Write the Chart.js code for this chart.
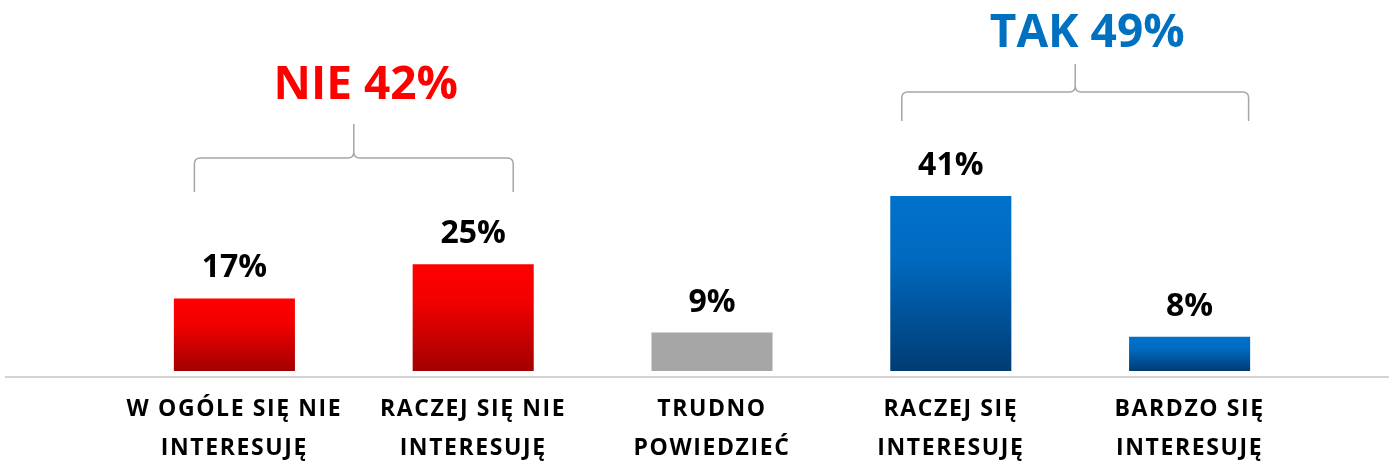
<!DOCTYPE html>
<html>
<head>
<meta charset="utf-8">
<script src="https://cdn.jsdelivr.net/npm/chart.js@4/dist/chart.umd.min.js"></script>
<style>
  html, body { margin: 0; padding: 0; background: #fff; }
  #wrap { width: 1389px; height: 467px; }
</style>
</head>
<body>
<div id="wrap"><canvas id="chart" width="1389" height="467"></canvas></div>
<script>
const categories = [
  ["W OGÓLE SIĘ NIE", "INTERESUJĘ"],
  ["RACZEJ SIĘ NIE", "INTERESUJĘ"],
  ["TRUDNO", "POWIEDZIEĆ"],
  ["RACZEJ SIĘ", "INTERESUJĘ"],
  ["BARDZO SIĘ", "INTERESUJĘ"]
];
const values = [17, 25, 9, 41, 8];
const barKinds = ["nie", "nie", "neutral", "tak", "tak"];

const groupNames = ["NIE", "TAK"];
const groupTotals = [42, 49];
const groupBars = [[0, 1], [3, 4]];

const FONT = "'Open Sans', 'Liberation Sans', sans-serif";

function barFill(context) {
  const chart = context.chart;
  const kind = barKinds[context.dataIndex];
  if (kind === "neutral") return "#a6a6a6";
  const top = kind === "nie" ? "#ff0000" : "#0072cc";
  const bottom = kind === "nie" ? "#a20000" : "#003c74";
  if (!chart.chartArea) return top;
  const y = chart.scales.y;
  const y0 = y.getPixelForValue(context.raw);
  const y1 = y.getPixelForValue(0);
  const g = chart.ctx.createLinearGradient(0, y0, 0, y1);
  g.addColorStop(0, top);
  g.addColorStop(0.35, kind === "nie" ? "#f20000" : "#006ac0");
  g.addColorStop(1, bottom);
  return g;
}

function drawBrace(ctx, left, right, yLine, yEnd, yTip) {
  const mid = (left + right) / 2;
  const r = 6;
  ctx.beginPath();
  ctx.moveTo(left, yEnd);
  ctx.lineTo(left, yLine + r);
  ctx.quadraticCurveTo(left, yLine, left + r, yLine);
  ctx.lineTo(mid - r, yLine);
  ctx.quadraticCurveTo(mid, yLine, mid, yLine - r);
  ctx.lineTo(mid, yTip);
  ctx.moveTo(mid, yLine - r);
  ctx.quadraticCurveTo(mid, yLine, mid + r, yLine);
  ctx.lineTo(right - r, yLine);
  ctx.quadraticCurveTo(right, yLine, right, yLine + r);
  ctx.lineTo(right, yEnd);
  ctx.stroke();
}

const extras = {
  id: "extras",
  beforeDraw(chart) {
    // category labels in the original are set a little loose
    chart.ctx.letterSpacing = "1.6px";
  },
  afterDraw(chart) {
    const ctx = chart.ctx;
    ctx.letterSpacing = "0px";
    const area = chart.chartArea;
    const xs = chart.scales.x;
    const meta = chart.getDatasetMeta(0);

    // baseline
    ctx.save();
    ctx.strokeStyle = "#d4d4d4";
    ctx.lineWidth = 2;
    ctx.beginPath();
    ctx.moveTo(5, area.bottom + 6);
    ctx.lineTo(chart.width, area.bottom + 6);
    ctx.stroke();

    // value labels
    ctx.fillStyle = "#000";
    ctx.font = "bold 32px " + FONT;
    ctx.textAlign = "center";
    ctx.textBaseline = "alphabetic";
    meta.data.forEach((bar, i) => {
      ctx.fillText(values[i] + "%", bar.x, bar.y - 21);
    });

    // group braces and totals
    const braceSpec = [
      { padL: 40, padR: 40, yLine: 158, yEnd: 192, yTip: 124, color: "#ff0000", base: 99 },
      { padL: 49, padR: 59, yLine: 92, yEnd: 121, yTip: 64, color: "#0070c0", base: 47 }
    ];
    groupBars.forEach((idx, g) => {
      const s = braceSpec[g];
      const left = xs.getPixelForValue(idx[0]) - s.padL;
      const right = xs.getPixelForValue(idx[1]) + s.padR;
      ctx.strokeStyle = "#a6a6a6";
      ctx.lineWidth = 1.5;
      drawBrace(ctx, left, right, s.yLine, s.yEnd, s.yTip);
      ctx.fillStyle = s.color;
      ctx.font = "bold 46px " + FONT;
      ctx.fillText(groupNames[g] + " " + groupTotals[g] + "%", (left + right) / 2 + 12, s.base);
    });
    ctx.restore();
  }
};

new Chart(document.getElementById("chart"), {
  type: "bar",
  data: {
    labels: categories,
    datasets: [{
      data: values,
      backgroundColor: barFill,
      borderWidth: 0,
      barPercentage: 0.507,
      categoryPercentage: 1
    }]
  },
  options: {
    responsive: false,
    animation: false,
    devicePixelRatio: 1,
    layout: { padding: { left: 115, right: 80, top: 115, bottom: 0 } },
    plugins: { legend: { display: false }, tooltip: { enabled: false } },
    scales: {
      x: {
        grid: { display: false, drawTicks: false },
        border: { display: false },
        ticks: {
          color: "#000",
          padding: 19,
          maxRotation: 0,
          autoSkip: false,
          font: { family: FONT, weight: "bold", size: 23, lineHeight: "39px" }
        },
        afterFit(scale) { scale.height = 96; }
      },
      y: {
        display: false,
        min: 0,
        max: 60
      }
    }
  },
  plugins: [extras]
});
</script>
</body>
</html>
